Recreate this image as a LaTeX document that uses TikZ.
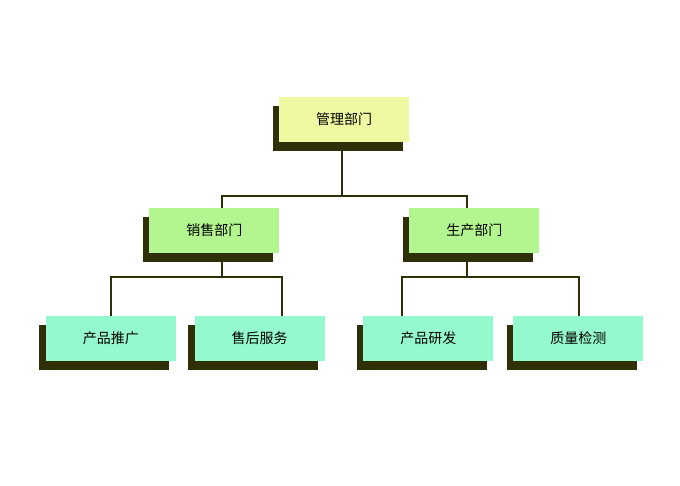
\documentclass[tikz,border=0pt]{standalone}
\usepackage{fontspec}
\newfontfamily\cjk{Noto Sans CJK SC}
\usetikzlibrary{shadows,backgrounds}
\definecolor{shadowc}{HTML}{2F2F08}
\definecolor{topc}{HTML}{EEF9A1}
\definecolor{midc}{HTML}{B3F690}
\definecolor{lowc}{HTML}{94F9CC}
\begin{document}
\begin{tikzpicture}[x=1pt,y=-1pt,
  box/.style={minimum width=130pt,minimum height=45pt,inner sep=0pt,
    font=\cjk\fontsize{14}{16}\selectfont,text=black,
    drop shadow={shadow xshift=-6.7pt,shadow yshift=-9pt,fill=shadowc,opacity=1}},
  topbox/.style={box,fill=topc},
  midbox/.style={box,fill=midc},
  lowbox/.style={box,fill=lowc},
  link/.style={draw=shadowc,line width=2pt}]
\useasboundingbox (0,0) rectangle (680,485);
\node[topbox] (top) at (344.2,119.2) {管理部门};
\node[midbox] (sales) at (214.3,230.3) {销售部门};
\node[midbox] (prod) at (474.3,230.2) {生产部门};
\node[lowbox] (c1) at (110.8,338.2) {产品推广};
\node[lowbox] (c2) at (259.7,338.2) {售后服务};
\node[lowbox] (c3) at (428.3,338.2) {产品研发};
\node[lowbox] (c4) at (578.3,338.2) {质量检测};
\coordinate (j0) at (342,196);
\coordinate (ja) at (222,196);
\coordinate (jb) at (466.7,196);
\coordinate (k1) at (222,276.5);
\coordinate (k2) at (466.7,276.5);
\coordinate (m1) at (111,276.5);
\coordinate (m2) at (281.7,276.5);
\coordinate (m3) at (402.3,276.5);
\coordinate (m4) at (579,276.5);
\begin{scope}[on background layer]
\fill[white] (0,0) rectangle (680,485);
\draw[link] (top.south -| j0) -- (j0);
\draw[link] (sales.north -| ja) -- (ja) -- (jb) -- (prod.north -| jb);
\draw[link] (sales.south -| k1) -- (k1);
\draw[link] (c1.north -| m1) -- (m1) -- (m2) -- (c2.north -| m2);
\draw[link] (prod.south -| k2) -- (k2);
\draw[link] (c3.north -| m3) -- (m3) -- (m4) -- (c4.north -| m4);
\end{scope}
\end{tikzpicture}
\end{document}
